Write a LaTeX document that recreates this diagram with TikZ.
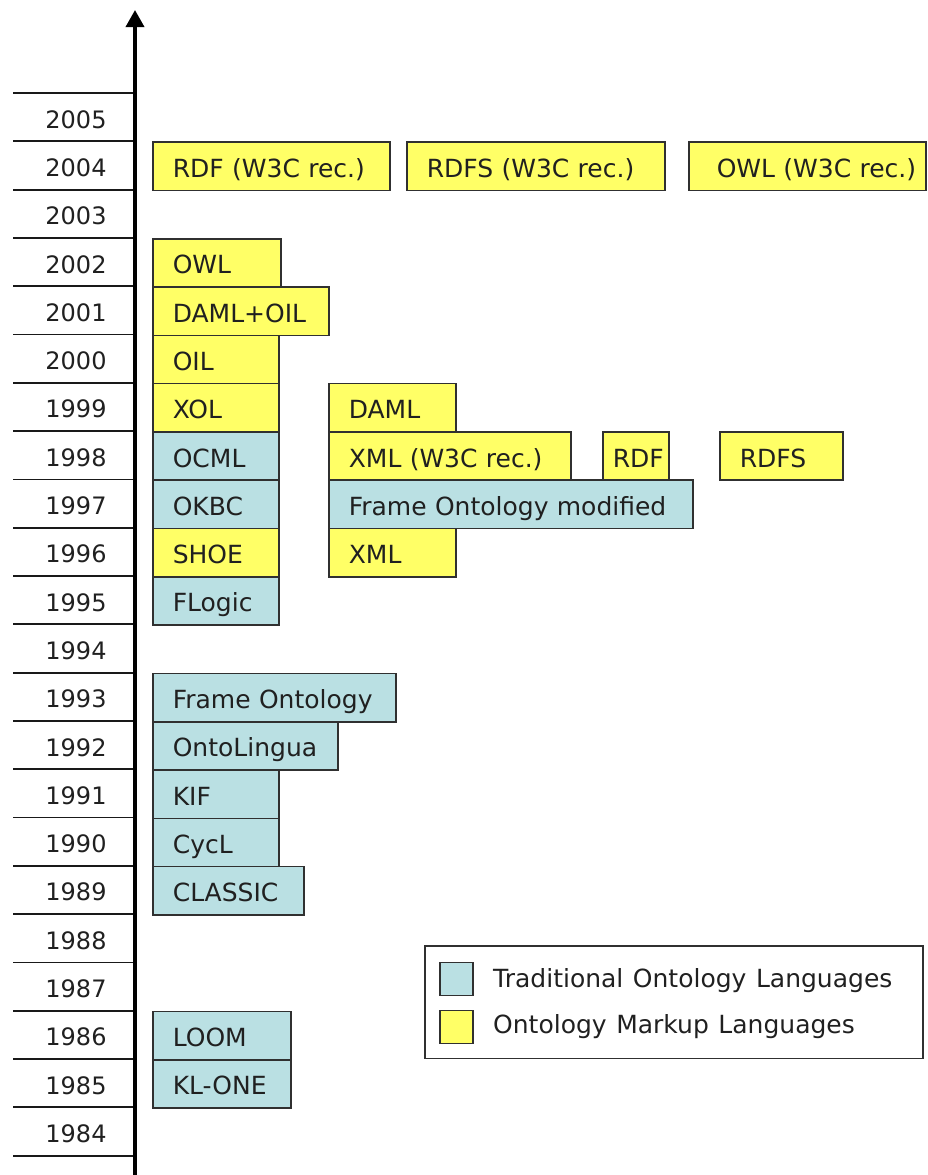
\documentclass[tikz,border=0pt]{standalone}
\usepackage{fontspec}
\setmainfont{DejaVu Sans}[WordSpace=1.2]
\usetikzlibrary{arrows.meta}
\definecolor{tradblue}{HTML}{BAE0E3}
\definecolor{markyel}{HTML}{FFFF66}
\definecolor{edge}{HTML}{303030}
\definecolor{ink}{HTML}{202020}
\begin{document}
\begin{tikzpicture}[x=1pt,y=-1pt,
  font=\fontsize{25}{29}\selectfont, text=ink,
  lang/.style={draw=edge, line width=1.6pt, anchor=north west, minimum height=48.3pt,
    inner xsep=20pt, inner ysep=0pt, align=left, text height=22pt, text depth=0pt},
  trad/.style={lang, fill=tradblue},
  markup/.style={lang, fill=markyel},
  yearlbl/.style={inner sep=0pt, text height=22pt, text depth=0pt, font=\fontsize{24}{28}\selectfont},
  tickline/.style={line width=1.8pt, draw=black!90},
  axisline/.style={line width=3.5pt, -{Triangle[width=18pt,length=17pt]}},
  swatch/.style={draw=edge, line width=1.6pt, anchor=north west, minimum width=33pt, minimum height=33pt, inner sep=0pt},
  legtext/.style={anchor=west, inner sep=0pt, text height=24pt, text depth=0pt}
]
\useasboundingbox (0,0) rectangle (927,1175);

% year separators and labels
\foreach \k in {0,...,22}{
  \draw[tickline] (13,{93+48.3*\k}) -- (135,{93+48.3*\k});
}
\foreach \k in {0,...,21}{
  \pgfmathtruncatemacro\yr{2005-\k}
  \node[yearlbl] (y\yr) at (76,{93+48.3*\k+24.15}) {\yr};
}

% axis
\coordinate (axbot) at (135,1175);
\coordinate (axtop) at (135,10);
\draw[axisline] (axbot) -- (axtop);

% 2004
\node[markup, minimum width=237pt, text width=197pt] (rdfrec) at (152,141.3) {RDF~(W3C~rec.)};
\node[markup, minimum width=258pt, text width=218pt] (rdfsrec) at (406,141.3) {RDFS~(W3C~rec.)};
\node[markup, minimum width=237pt, text width=197pt, inner xsep=14pt] (owlrec) at (688,141.3) {\hspace*{8pt}OWL~(W3C~rec.)};
% 2002
\node[markup, minimum width=128pt, text width=88pt] (owl) at (152,237.9) {OWL};
% 2001
\node[markup, minimum width=176pt, text width=136pt] (damloil) at (152,286.2) {DAML+OIL};
% 2000
\node[markup, minimum width=126pt, text width=86pt] (oil) at (152,334.5) {OIL};
% 1999
\node[markup, minimum width=126pt, text width=86pt] (xol) at (152,382.8) {XOL};
\node[markup, minimum width=127pt, text width=87pt] (daml) at (328,382.8) {DAML};
% 1998
\node[trad, minimum width=126pt, text width=86pt] (ocml) at (152,431.1) {OCML};
\node[markup, minimum width=242pt, text width=202pt] (xmlrec) at (328,431.1) {XML~(W3C~rec.)};
\node[markup, minimum width=66pt, text width=46pt, inner xsep=10pt] (rdf) at (602,431.1) {RDF};
\node[markup, minimum width=123pt, text width=83pt] (rdfs) at (719,431.1) {RDFS};
% 1997
\node[trad, minimum width=126pt, text width=86pt] (okbc) at (152,479.4) {OKBC};
\node[trad, minimum width=364pt, text width=324pt] (fomod) at (328,479.4) {Frame~Ontology~modified};
% 1996
\node[markup, minimum width=126pt, text width=86pt] (shoe) at (152,527.7) {SHOE};
\node[markup, minimum width=127pt, text width=87pt] (xml) at (328,527.7) {XML};
% 1995
\node[trad, minimum width=126pt, text width=86pt] (flogic) at (152,576.0) {FLogic};
% 1993
\node[trad, minimum width=243pt, text width=203pt] (fo) at (152,672.6) {Frame~Ontology};
% 1992
\node[trad, minimum width=185pt, text width=145pt] (ontolingua) at (152,720.9) {OntoLingua};
% 1991
\node[trad, minimum width=126pt, text width=86pt] (kif) at (152,769.2) {KIF};
% 1990
\node[trad, minimum width=126pt, text width=86pt] (cycl) at (152,817.5) {CycL};
% 1989
\node[trad, minimum width=151pt, text width=111pt] (classic) at (152,865.8) {CLASSIC};
% 1986
\node[trad, minimum width=138pt, text width=98pt] (loom) at (152,1010.7) {LOOM};
% 1985
\node[trad, minimum width=138pt, text width=98pt] (klone) at (152,1059.0) {KL-ONE};

% legend
\node[draw=edge, line width=1.6pt, anchor=north west, minimum width=498pt, minimum height=112.5pt, inner sep=0pt] (legend) at (424,945) {};
\node[swatch, fill=tradblue] (swtrad) at (439,961.5) {};
\node[swatch, fill=markyel] (swmark) at (439,1009.5) {};
\node[legtext] (lgtrad) at (493,975) {Traditional~Ontology~Languages};
\node[legtext] (lgmark) at (493,1021) {Ontology~Markup~Languages};
\end{tikzpicture}
\end{document}
